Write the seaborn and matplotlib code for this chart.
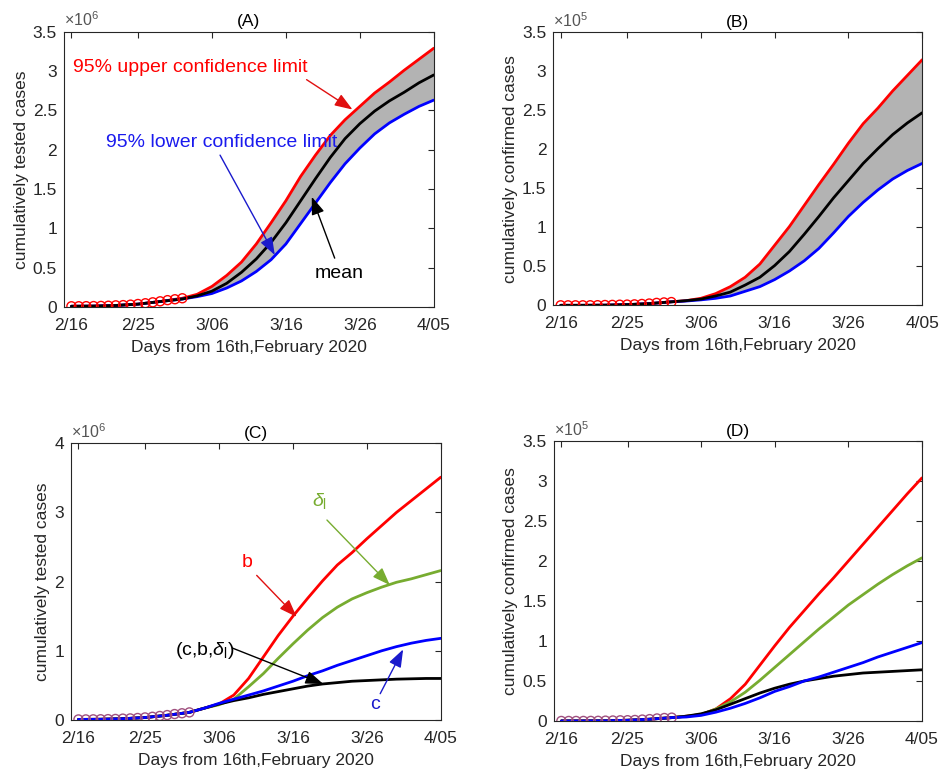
import matplotlib
matplotlib.use("Agg")
import matplotlib.pyplot as plt
import seaborn as sns
from matplotlib.ticker import FuncFormatter

# ---------------- data ----------------
tick_days = [0, 9, 19, 29, 39, 49]
tick_labels = ['2/16', '2/25', '3/06', '3/16', '3/26', '4/05']

obs_days = list(range(16))
tested_obs = [0.0079, 0.0082, 0.0093, 0.0104, 0.0122, 0.0148, 0.0196, 0.0226,
              0.0286, 0.0367, 0.0461, 0.0580, 0.0709, 0.0857, 0.0970, 0.1096]   # x1e6
confirmed_obs = [0.00029, 0.0003, 0.00031, 0.00051, 0.00104, 0.00204, 0.00433, 0.00602,
                 0.00833, 0.00977, 0.01261, 0.01766, 0.02337, 0.0315, 0.03736, 0.04212]  # x1e5

model_days = [0, 3, 6, 9, 12, 15, 17, 19, 21, 23, 25, 27, 29, 31, 33, 35, 37, 39, 41, 43, 45, 47, 49]

tested_early = [0.008, 0.010, 0.018, 0.035, 0.068]
confirmed_early = [0.0003, 0.0004, 0.002, 0.009, 0.022]

# (A) tested, x1e6
A_mean = tested_early + [0.10, 0.14, 0.20, 0.30, 0.44, 0.61, 0.82, 1.07, 1.35, 1.63, 1.90, 2.14, 2.33, 2.49, 2.62, 2.73, 2.85, 2.95]
A_upper = tested_early + [0.11, 0.16, 0.26, 0.40, 0.57, 0.80, 1.07, 1.35, 1.66, 1.93, 2.18, 2.38, 2.55, 2.72, 2.86, 3.01, 3.15, 3.29]
A_lower = tested_early + [0.10, 0.13, 0.17, 0.24, 0.33, 0.45, 0.60, 0.80, 1.06, 1.32, 1.58, 1.82, 2.02, 2.20, 2.34, 2.45, 2.55, 2.63]

# (B) confirmed, x1e5
B_mean = confirmed_early + [0.045, 0.06, 0.08, 0.12, 0.17, 0.26, 0.36, 0.51, 0.69, 0.91, 1.14, 1.38, 1.60, 1.82, 2.01, 2.19, 2.34, 2.47]
B_upper = confirmed_early + [0.045, 0.06, 0.09, 0.15, 0.24, 0.36, 0.53, 0.77, 1.01, 1.28, 1.55, 1.81, 2.08, 2.33, 2.53, 2.75, 2.95, 3.15]
B_lower = confirmed_early + [0.045, 0.055, 0.07, 0.09, 0.12, 0.18, 0.24, 0.33, 0.44, 0.57, 0.73, 0.93, 1.14, 1.32, 1.48, 1.62, 1.73, 1.82]

# (C) tested, x1e6
C_b = tested_early + [0.11, 0.17, 0.23, 0.36, 0.60, 0.91, 1.22, 1.50, 1.76, 2.01, 2.24, 2.42, 2.62, 2.81, 3.00, 3.17, 3.34, 3.51]
C_delta = tested_early + [0.11, 0.17, 0.22, 0.30, 0.48, 0.67, 0.89, 1.10, 1.30, 1.48, 1.63, 1.75, 1.84, 1.92, 1.99, 2.04, 2.10, 2.16]
C_c = tested_early + [0.11, 0.17, 0.24, 0.30, 0.36, 0.42, 0.49, 0.56, 0.64, 0.71, 0.79, 0.86, 0.93, 1.00, 1.06, 1.11, 1.15, 1.18]
C_all = tested_early + [0.11, 0.17, 0.23, 0.28, 0.32, 0.37, 0.41, 0.45, 0.49, 0.52, 0.54, 0.56, 0.57, 0.58, 0.59, 0.595, 0.60, 0.60]

# (D) confirmed, x1e5
D_b = confirmed_early + [0.042, 0.06, 0.08, 0.15, 0.28, 0.46, 0.70, 0.94, 1.17, 1.38, 1.59, 1.79, 2.00, 2.21, 2.42, 2.63, 2.84, 3.04]
D_delta = confirmed_early + [0.042, 0.06, 0.08, 0.15, 0.24, 0.36, 0.51, 0.67, 0.83, 0.99, 1.15, 1.30, 1.45, 1.58, 1.71, 1.83, 1.94, 2.04]
D_c = confirmed_early + [0.042, 0.05, 0.07, 0.11, 0.16, 0.22, 0.29, 0.37, 0.43, 0.50, 0.55, 0.61, 0.67, 0.73, 0.80, 0.86, 0.92, 0.98]
D_all = confirmed_early + [0.042, 0.06, 0.09, 0.14, 0.21, 0.28, 0.35, 0.41, 0.46, 0.50, 0.53, 0.56, 0.58, 0.60, 0.61, 0.62, 0.63, 0.64]

# ---------------- style ----------------
sns.set_theme(style="white")
plt.rcParams['font.family'] = ['Liberation Sans', 'DejaVu Sans']
plt.rcParams['mathtext.fontset'] = 'custom'
plt.rcParams['mathtext.rm'] = 'Liberation Sans'
plt.rcParams['mathtext.it'] = 'Liberation Sans:italic'
plt.rcParams['mathtext.sf'] = 'Liberation Sans'

DARK = '#262626'
RED = '#ff0000'
BLUE = '#0000ff'
GREEN = '#77ac30'
GRAY = '#b3b3b3'
PURPLE = '#a0507f'
LW = 2.0

fig = plt.figure(figsize=(9.41, 7.73), dpi=100)
axA = fig.add_axes([0.068, 0.603, 0.393, 0.356])
axB = fig.add_axes([0.588, 0.605, 0.392, 0.353])
axC = fig.add_axes([0.0755, 0.0686, 0.393, 0.358])
axD = fig.add_axes([0.5887, 0.0673, 0.391, 0.362])


def style_axis(ax, title, ylabel, ymax, ystep, expo):
    ax.set_xlim(-1, 49)
    ax.set_ylim(0, ymax)
    ax.set_xticks(tick_days)
    ax.set_xticklabels(tick_labels)
    yt = [i * ystep for i in range(int(round(ymax / ystep)) + 1)]
    ax.set_yticks(yt)
    ax.yaxis.set_major_formatter(FuncFormatter(lambda v, p: '%g' % v))
    ax.tick_params(direction='in', top=True, right=True, length=4, width=0.8,
                   labelsize=12.5, colors=DARK)
    ax.tick_params(axis='x', pad=8)
    ax.tick_params(axis='y', pad=5)
    for s in ax.spines.values():
        s.set_color(DARK)
        s.set_linewidth(0.8)
    ax.set_title(title, fontsize=12.5, color='black', pad=4)
    ax.set_ylabel(ylabel, fontsize=12.5, color=DARK, labelpad=3)
    ax.set_xlabel('Days from 16th,February 2020', fontsize=12.5, color=DARK, labelpad=5)
    ax.text(0.0, 1.008, r'$\times10^{%d}$' % expo, transform=ax.transAxes,
            ha='left', va='bottom', fontsize=11.5, color='#555555')
    ax.grid(False)


def circles(ax, y, color):
    sns.scatterplot(x=obs_days, y=y, ax=ax, marker='o', s=42, zorder=5, legend=False)
    coll = ax.collections[-1]
    coll.set_facecolor('none')
    coll.set_edgecolor(color)
    coll.set_linewidth(1.0)


def line(ax, y, color, z=3):
    sns.lineplot(x=model_days, y=y, ax=ax, color=color, lw=LW, zorder=z,
                 sort=False, estimator=None)


def arrow(ax, xy_from, xy_to, color):
    ax.annotate('', xy=xy_to, xytext=xy_from,
                arrowprops=dict(arrowstyle='-|>,head_length=0.9,head_width=0.33',
                                color=color, lw=1.0, shrinkA=0, shrinkB=0), zorder=6)


# ---- (A)
axA.fill_between(model_days, A_lower, A_upper, color=GRAY, lw=0, zorder=1)
line(axA, A_upper, RED)
line(axA, A_lower, BLUE)
line(axA, A_mean, 'black', z=4)
circles(axA, tested_obs, RED)
style_axis(axA, '(A)', 'cumulatively tested cases', 3.5, 0.5, 6)
axA.text(0.2, 3.04, '95% upper confidence limit', color=RED, fontsize=14, ha='left', va='center')
arrow(axA, (31.8, 2.89), (38.0, 2.51), '#e01010')
axA.text(4.7, 2.09, '95% lower confidence limit', color='#1a1aee', fontsize=14, ha='left', va='center')
arrow(axA, (20.1, 1.93), (27.5, 0.66), '#1a1acc')
axA.text(32.9, 0.42, 'mean', color='black', fontsize=14, ha='left', va='center')
arrow(axA, (35.6, 0.62), (32.5, 1.40), 'black')

# ---- (B)
axB.fill_between(model_days, B_lower, B_upper, color=GRAY, lw=0, zorder=1)
line(axB, B_upper, RED)
line(axB, B_lower, BLUE)
line(axB, B_mean, 'black', z=4)
circles(axB, confirmed_obs, RED)
style_axis(axB, '(B)', 'cumulatively confirmed cases', 3.5, 0.5, 5)

# ---- (C)
line(axC, C_b, RED)
line(axC, C_delta, GREEN)
line(axC, C_all, 'black')
line(axC, C_c, BLUE, z=4)
circles(axC, tested_obs, PURPLE)
style_axis(axC, '(C)', 'cumulatively tested cases', 4, 1, 6)
axC.text(22.8, 2.27, 'b', color=RED, fontsize=14, ha='center', va='center')
arrow(axC, (24.1, 2.09), (29.5, 1.49), '#e01010')
axC.text(32.6, 3.17, r'$\delta_\mathrm{l}$', color=GREEN, fontsize=14, ha='center', va='center')
arrow(axC, (33.6, 2.89), (42.1, 1.95), GREEN)
axC.text(17.1, 1.01, r'(c,b,$\delta_\mathrm{l}$)', color='black', fontsize=14, ha='center', va='center')
arrow(axC, (20.8, 1.04), (33.1, 0.52), 'black')
axC.text(40.1, 0.22, 'c', color='#1a1acc', fontsize=14, ha='center', va='center')
arrow(axC, (40.8, 0.38), (43.9, 1.02), '#1a1acc')

# ---- (D)
line(axD, D_b, RED)
line(axD, D_delta, GREEN)
line(axD, D_all, 'black')
line(axD, D_c, BLUE, z=4)
circles(axD, confirmed_obs, PURPLE)
style_axis(axD, '(D)', 'cumulatively confirmed cases', 3.5, 0.5, 5)

fig.savefig('out.png', dpi=100)
